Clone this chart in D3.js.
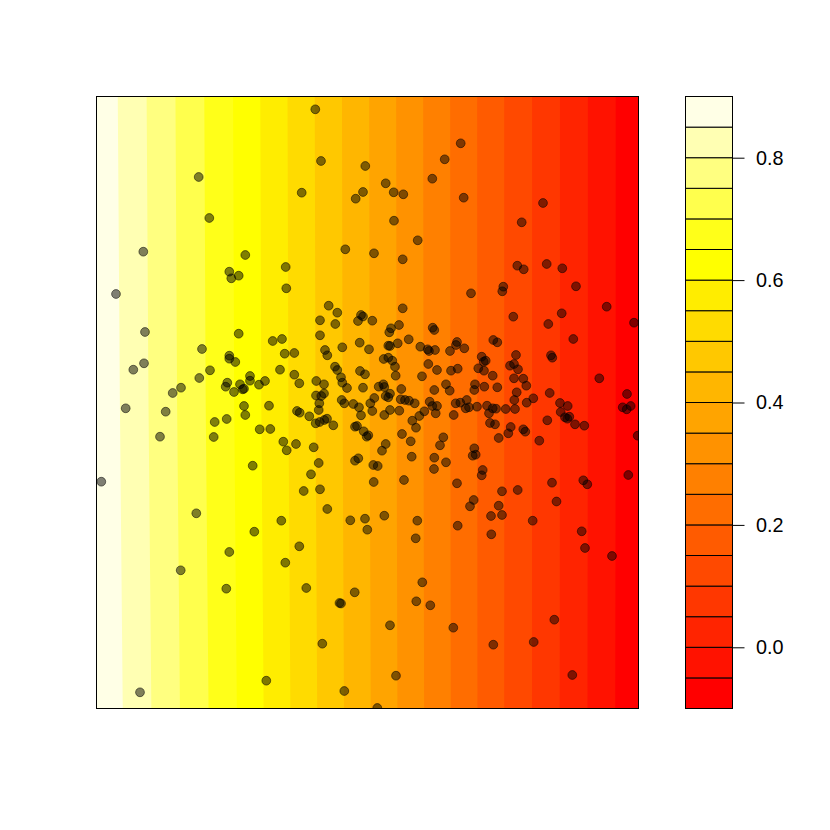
<!DOCTYPE html>
<html><head><meta charset="utf-8">
<script src="https://cdn.jsdelivr.net/npm/d3@7"></script>
<style>body{margin:0;background:#fff} svg{display:block}</style>
</head><body><svg id="c" width="830" height="830"></svg>
<script>
// contour levels (legend key) and legend ticks
const levels = [-0.1,-0.05,0,0.05,0.1,0.15,0.2,0.25,0.3,0.35,0.4,0.45,0.5,0.55,0.6,0.65,0.7,0.75,0.8,0.85,0.9];
const legendTicks = [0, 0.2, 0.4, 0.6, 0.8];
const legendTickLabels = ["0.0", "0.2", "0.4", "0.6", "0.8"];

// surface values (columns along x, three rows along y)
const fieldX = [0, 135, 270, 405, 541];
const fieldRowY = [0, 305.5, 611];
const fieldZBottom = [0.895, 0.659, 0.407, 0.154, -0.091];
const fieldZMid    = [0.890, 0.654, 0.405, 0.154, -0.090];
const fieldZTop    = [0.886, 0.652, 0.404, 0.154, -0.090];

// scattered points (x, y in plot units)
const xVals = [
 4.3,19,46.3,48,47,36.3,28.7,63,68.7,43,75.7,84,
 218.3,224,101.7,204.7,112.3,148.3,188.7,132.3,141.7,134.3,189.3,
 268.3,266,258.7,248.3,363.7,347.7,335.3,288.7,296.7,306.3,366.7,297,320.7,277,305.7,
 446,424.7,420.3,426.7,449.7,465.3,479,406.3,405.3,
 231.7,240.3,223,238.3,141.7,175.7,185,223,105,132.3,132.3,138.3,187.7,197.3,228,230.3,113,102.3,183,197.3,202.3,238,240.3,130.3,128.7,143,147,145.7,137,153,153,162,168,219.3,227,219,227,224.3,222.3,221.7,218.7,222.7,227.3,230,236.3,200,202.7,212.3,172,147,148.3,117.7,116.7,129.7,162.7,173.3,186.3,189.7,199,216.7,155.7,221.7,214,206.7,223,
 99.3,83.7,132.3,129.3,157.3,184.3,230.3,202.3,188.3,209.3,225.3,169.3,
 374,305.7,264,266,261,275.3,302,294,292.3,335.7,337.3,311.7,262.7,300.7,291.3,293,245.3,272,323.3,330.7,332,338,360,359,353,367.3,286.7,291.3,295.3,298,331.3,340,354,360.7,384.7,386.7,388.7,381.3,387,263,268,298.7,325,244,245.3,250,266,281.7,286.3,287.3,304.3,337.3,349,352.7,378,377.3,387.3,288.7,291.3,293,244.7,247.3,256.3,262,264,273.3,277.3,275.3,287.3,293,302.3,303.7,308,312,317.7,315.3,319,322.3,327.3,332.7,335.3,340,338.7,356.7,358.7,363.3,369.7,368.7,372,380,390,392,393,258,260,266.7,269.7,271.3,305,313.7,346.3,343,288.7,285,258,261.3,276.3,280.7,314.7,337.3,349,337,377.3,375.7,378.7,385.7,384.7,307,276.7,360,376.7,
 242.5,244,257.7,253.3,268,270.3,247.3,287.3,320.3,318.7,360.7,325.3,319.3,333.3,293,356.3,299,280.3,373,
 509.7,416.3,464.7,451.3,537,476.3,396.3,400.3,419,454,455.3,413,417,421,395.7,417,426.3,429.3,400.3,419.7,452.7,502.3,530,436.3,417.3,429.7,463,470.7,395.7,399,408.7,418,463.7,525.7,529.7,533.7,450.3,468,470.3,472.3,478,487.3,398,413.7,411.3,426.3,428.3,401.7,442.3,540.7,531.3,455,486.3,490.3,405,420.7,459.5,
 394.3,405,401.7,394,435.7,484.7,488,515,457.3,436.7,396.3,475.3
];
const yVals = [
 226.3,414,456.3,376,344.7,338.3,299.7,271.3,296.3,15.7,315,320.3,
 598.7,547,531,515.3,490,453,441,436.3,432.3,429.7,419.7,
 542,516,509.3,458.7,564.7,548.7,529.3,524.7,515.7,513.7,510.3,487.3,467.7,454.7,448.7,
 505,485.7,442.3,438.7,444,439.7,421.7,421.3,416.7,
 402.3,395.3,387.7,384,374.3,367,369,372.7,359,352.3,349.3,346,354.3,355,358,352.7,337.7,330,338.3,333.3,324.7,341.3,338,325.3,321.3,323.7,319.3,318.7,316,332,327.3,323.3,327,327,323.7,312.5,314.5,312,304.7,298,284.7,286,288,289.3,282.7,297,295.3,291.7,302.3,302,293,286,271,289,278.7,279,266.3,257.7,264,260.7,242.3,245,233.7,217,218.7,
 194.7,137.7,156,119.3,176.3,187.3,199,161.7,145.3,120,64.3,27.3,
 414.7,399.7,393,391.5,387,387.3,383,379.7,375.7,380.3,378,368.7,365.3,364.7,362.3,362,360.7,358.7,361.3,358.7,357,358,366,363,357,359.7,349,350.3,347.3,341.3,344,338,337.3,339.3,351.3,346.3,347.3,339.7,337.3,337,333.7,332.3,331.7,330.7,325.3,320,320.3,321.3,323.7,321,319,318,323.7,317.3,323.7,318,321.3,312,310.7,314.3,308,304.7,304,300.7,292.7,304.7,310,297,293,298,297.3,308.7,308,307.3,304.7,287.3,280.3,292,296.7,306.3,302,302,294.7,293,304.7,305.3,308,299.7,300.7,301.3,302.3,294.7,285,281.3,282,276.7,271.3,272.7,274,266.7,270.7,262.7,264,257.3,247.3,249.7,243,242,251.3,250.3,245.7,239,259.7,252.3,253.3,238,232.7,228,226,224.7,208,
 105,104.5,115.7,187.7,189.3,178.3,17,192.3,187.3,169.7,182.3,125.7,106.7,102.7,82.7,80.3,32.3,0,201.7,
 401.3,391.3,394.7,384,385.3,369,368,365.7,353,352.7,350.3,342.3,344,338.7,332.3,329.7,329.3,322.3,320.7,315.7,315,329.7,314,309.7,308,305.3,305,302,299.7,299.3,299,299,296,300.7,298.7,302,287.7,290.7,289.3,291.3,283.7,282.3,283.7,281,274.7,278.7,276.3,270,267.3,272.3,233,225.3,227.7,223.7,216.7,218,206.5,
 173.7,193,202.3,192,187.3,176.7,160,152,88.3,66,63.3,33
];

// ---- palette: R heat.colors(n) ----
function hsvHex(h, s, v) {
  const c = v * s, x = c * (1 - Math.abs(((h / 60) % 2) - 1)), m = v - c;
  let r, g, b;
  if (h < 60) { r = c; g = x; b = 0; } else { r = x; g = c; b = 0; }
  return d3.rgb(Math.round((r + m) * 255), Math.round((g + m) * 255), Math.round((b + m) * 255)).formatHex();
}
function heatColors(n) {
  const j = Math.floor(n / 4), i = n - j, out = [];
  for (let k = 0; k < i; k++) out.push(hsvHex(k / (i - 1) * 60, 1, 1));
  const s0 = 1 - 1 / (2 * j), s1 = 1 / (2 * j);
  for (let k = 0; k < j; k++) out.push(hsvHex(60, s0 + (s1 - s0) * k / (j - 1), 1));
  return out;
}
const colors = heatColors(levels.length - 1);

const svg = d3.select("#c");
svg.append("rect").attr("width", 830).attr("height", 830).attr("fill", "#fff");

const x = d3.scaleLinear().domain([0, 541]).range([97, 638]);
const y = d3.scaleLinear().domain([0, 611]).range([708, 97]);

svg.append("defs").append("clipPath").attr("id", "plotclip")
  .append("rect").attr("x", 96.5).attr("y", 96.5).attr("width", 542).attr("height", 612);

// ---- filled contour surface ----
const rowInterp = [fieldZBottom, fieldZMid, fieldZTop].map(r => d3.scaleLinear().domain(fieldX).range(r));
const yInterp = (vals, yd) => d3.scaleLinear().domain(fieldRowY).range(vals)(yd);
const cell = 2, gx0 = 91, gy0 = 91, nx = 277, ny = 312;
const grid = new Float64Array(nx * ny);
for (let j = 0; j < ny; j++) {
  const yd = y.invert(gy0 + (j + 0.5) * cell);
  for (let i = 0; i < nx; i++) {
    const xd = x.invert(gx0 + (i + 0.5) * cell);
    const vals = rowInterp.map(f => f(xd));
    grid[j * nx + i] = yInterp(vals, yd);
  }
}
const contours = d3.contours().size([nx, ny]).thresholds(levels.slice(0, -1))(grid);
const plotG = svg.append("g").attr("clip-path", "url(#plotclip)");
plotG.append("rect").attr("x", 96.5).attr("y", 96.5).attr("width", 542).attr("height", 612).attr("fill", colors[0]);
plotG.append("g").attr("transform", `translate(${gx0},${gy0}) scale(${cell})`)
  .selectAll("path").data(contours).join("path")
  .attr("d", d3.geoPath())
  .attr("fill", (d) => colors[levels.indexOf(d.value)] || colors[0])
  .attr("stroke", "none");

// ---- points ----
const pts = d3.range(xVals.length).map(i => ({ x: xVals[i], y: yVals[i] }));
plotG.append("g").selectAll("circle").data(pts).join("circle")
  .attr("cx", d => x(d.x)).attr("cy", d => y(d.y)).attr("r", 4.4)
  .attr("fill", "rgba(0,0,0,0.5)").attr("stroke", "rgba(0,0,0,0.5)").attr("stroke-width", 1);

// frame
svg.append("rect").attr("x", 96.5).attr("y", 96.5).attr("width", 542).attr("height", 612)
  .attr("fill", "none").attr("stroke", "#000").attr("stroke-width", 1);

// ---- legend ----
const ly = d3.scaleLinear().domain([levels[0], levels[levels.length - 1]]).range([708.5, 96.5]);
const lx0 = 685.5, lw = 47;
svg.append("g").selectAll("rect").data(d3.range(levels.length - 1)).join("rect")
  .attr("x", lx0).attr("width", lw)
  .attr("y", k => ly(levels[k + 1])).attr("height", k => ly(levels[k]) - ly(levels[k + 1]))
  .attr("fill", k => colors[k]).attr("stroke", "#000").attr("stroke-width", 1);
svg.append("rect").attr("x", lx0).attr("y", 96.5).attr("width", lw).attr("height", 612)
  .attr("fill", "none").attr("stroke", "#000").attr("stroke-width", 1);

const axis = d3.axisRight(ly).tickValues(legendTicks)
  .tickFormat((d, i) => legendTickLabels[i]).tickSize(12).tickPadding(11.5);
const ag = svg.append("g").attr("transform", `translate(${lx0 + lw},0)`).call(axis);
ag.select(".domain").remove();
ag.selectAll("line").attr("stroke", "#000").attr("stroke-width", 1);
ag.selectAll("text").attr("fill", "#000")
  .style("font-family", "'Liberation Sans', Arial, Helvetica, sans-serif").style("font-size", "19.8px");
</script>
</body></html>
